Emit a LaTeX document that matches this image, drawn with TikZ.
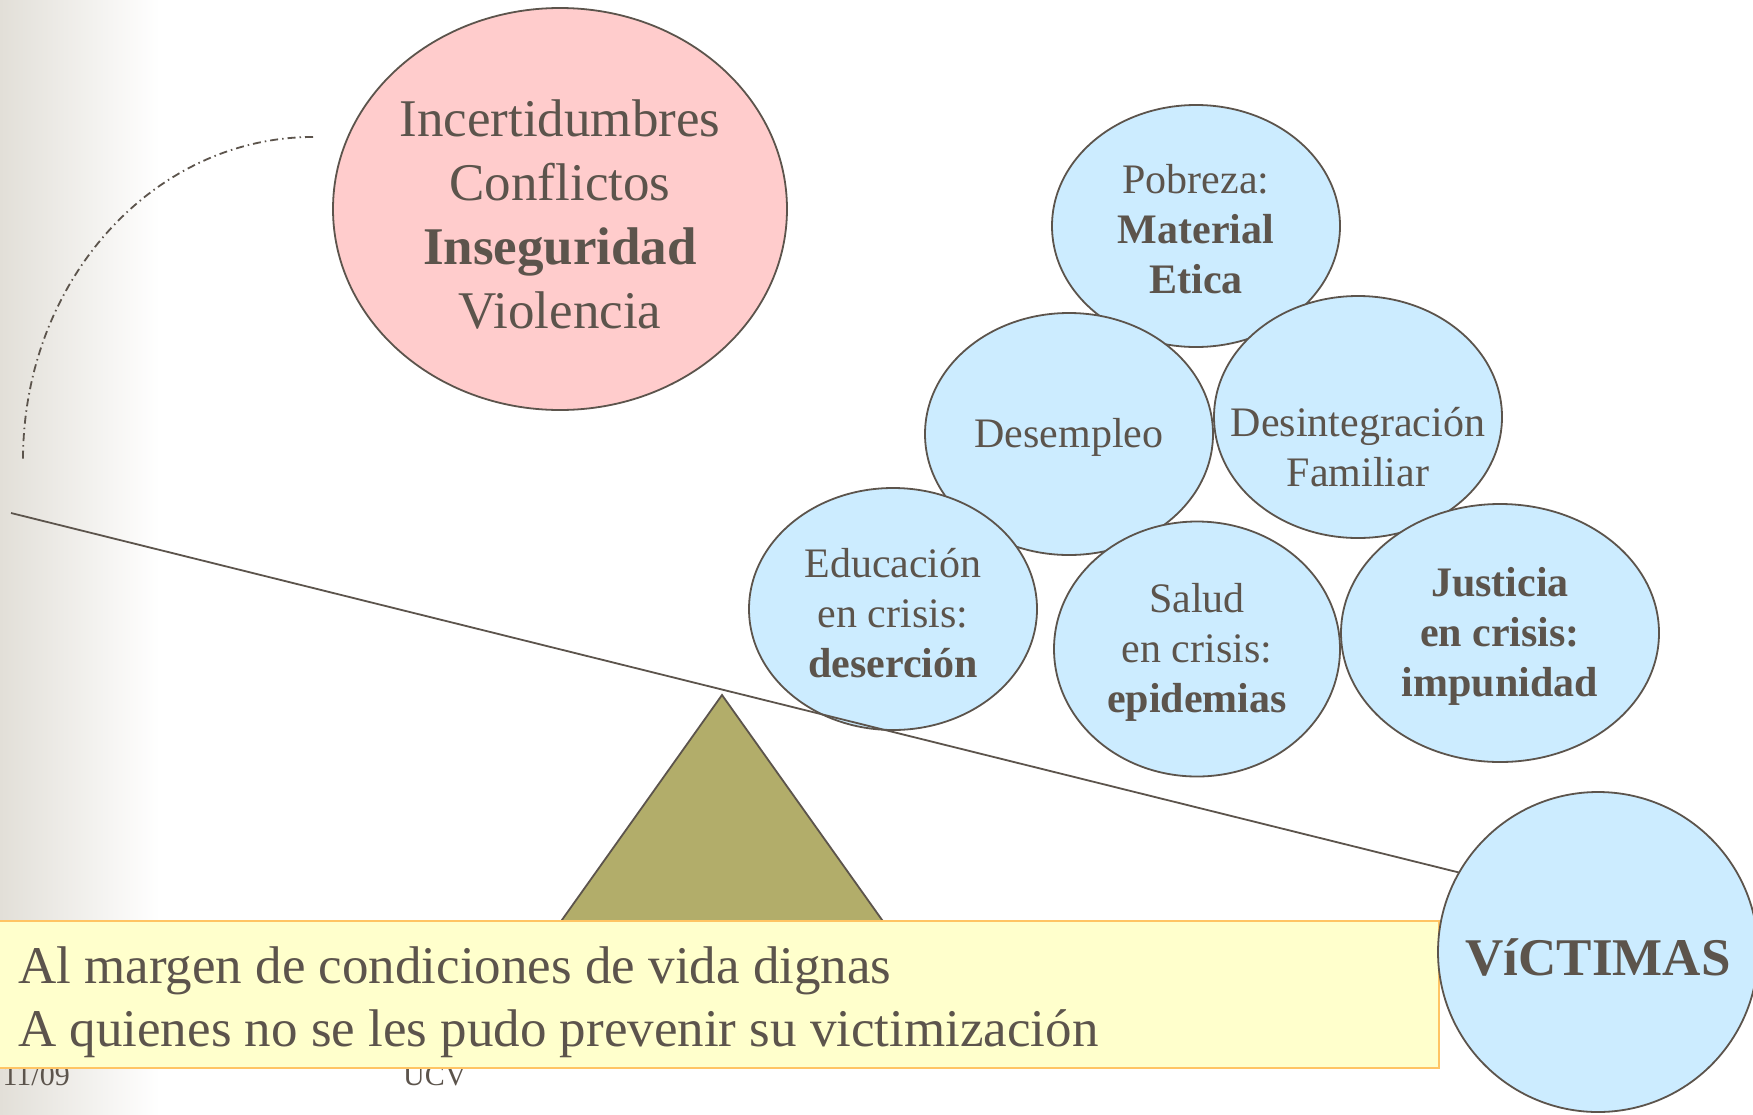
\documentclass[tikz,border=0pt]{standalone}
\usepackage{fontspec}
\setmainfont{Liberation Serif}
\usetikzlibrary{shapes.geometric}
\definecolor{ink}{RGB}{92,84,76}
\definecolor{pinkf}{RGB}{255,204,204}
\definecolor{bluef}{RGB}{204,236,255}
\definecolor{olivef}{RGB}{178,173,106}
\definecolor{yellowf}{RGB}{255,255,204}
\definecolor{orangeb}{RGB}{255,196,100}
\definecolor{bgl}{RGB}{226,223,216}
\begin{document}
\begin{tikzpicture}[x=1pt,y=-1pt,
  ell/.style={ellipse, draw=ink, line width=1.8pt, fill=bluef, inner sep=0pt},
  txt/.style={text=ink, align=center, inner sep=0pt, font=\fontsize{42}{50}\selectfont},
  bigtxt/.style={text=ink, align=center, inner sep=0pt, font=\fontsize{53}{64}\selectfont},
  foot/.style={text=ink, inner sep=0pt, font=\fontsize{30}{36}\selectfont},
  line/.style={draw=ink, line width=1.8pt}]
\useasboundingbox (0,0) rectangle (1753,1114);
\fill[white] (0,0) rectangle (1753,1114);
\shade[left color=bgl, right color=white] (0,0) rectangle (160,1114);
% footer
\node[foot, anchor=base east] (date) at (70,1085) {11/09};
\node[foot, anchor=base west] (ucv) at (403,1085) {UCV};
% dash-dot arc
\coordinate (arcS) at (313,137);
\draw[line, dash pattern=on 8pt off 4pt on 1.5pt off 4pt] (arcS) arc[start angle=90, end angle=180, x radius=290pt, y radius=323pt];
% pink ellipse
\node[ellipse, draw=ink, line width=1.8pt, fill=pinkf, inner sep=0pt, minimum width=454pt, minimum height=402pt] (pink) at (560,209) {};
\node[bigtxt] (pinkt) at (560,215) {Incertidumbres\\Conflictos\\\textbf{Inseguridad}\\Violencia};
% blue ellipses
\node[ell, minimum width=288pt, minimum height=242pt] (pob) at (1196,226) {};
\node[txt] (pobt) at (1196,229) {Pobreza:\\\textbf{Material}\\\textbf{Etica}};
\node[ell, minimum width=288pt, minimum height=242pt] (dese) at (1069,434) {};
\node[txt] (deset) at (1069,437) {Desempleo};
\node[ell, minimum width=288pt, minimum height=242pt] (desi) at (1358,417) {};
\node[txt] (desit) at (1358,447) {Desintegración\\Familiar};
\node[ell, minimum width=288pt, minimum height=242pt] (edu) at (893,609) {};
\node[txt] (edut) at (893,613) {Educación\\en crisis:\\\textbf{deserción}};
\node[ell, minimum width=286pt, minimum height=255pt] (sal) at (1197,649) {};
\node[txt] (salt) at (1197,652) {Salud\\en crisis:\\\textbf{epidemias}};
\node[ell, minimum width=318pt, minimum height=258pt] (jus) at (1500,633) {};
\node[txt, font=\bfseries\fontsize{42}{50}\selectfont] (just) at (1500,636) {Justicia\\en crisis:\\impunidad};
% fulcrum
\coordinate (apex) at (722,695);
\coordinate (tl) at (505,1000);
\coordinate (tr) at (939,1000);
\draw[line, fill=olivef, line join=miter] (apex) -- (tl) -- (tr) -- cycle;
% beam
\coordinate (beamL) at (11,513);
\coordinate (beamR) at (1598,907);
\draw[line] (beamL) -- (beamR);
% bottom box
\node[draw=orangeb, fill=yellowf, line width=2pt, minimum width=1440pt, minimum height=147pt, anchor=north west, inner sep=0pt] (box) at (-2,920) {};
\node[bigtxt, anchor=base west] (l1) at (18,983) {Al margen de condiciones de vida dignas};
\node[bigtxt, anchor=base west] (l2) at (18,1046) {A quienes no se les pudo prevenir su victimización};
% victims
\node[circle, draw=ink, line width=1.8pt, fill=bluef, inner sep=0pt, minimum size=320pt] (vic) at (1598,952) {};
\node[bigtxt, font=\bfseries\fontsize{53}{64}\selectfont] (vict) at (1598,957) {VíCTIMAS};
\end{tikzpicture}
\end{document}
